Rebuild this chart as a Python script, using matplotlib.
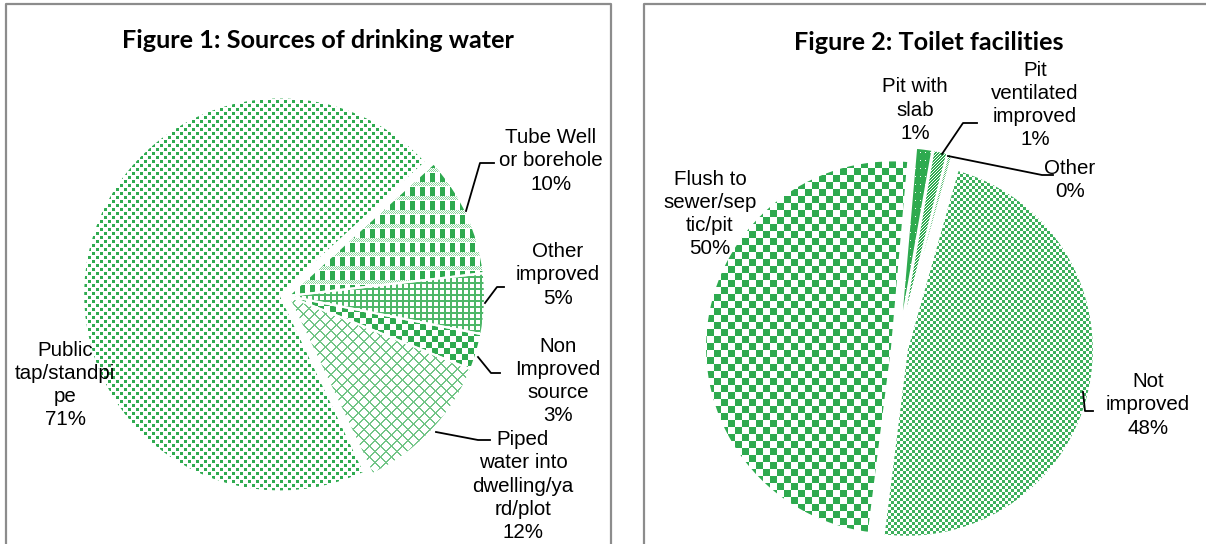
import numpy as np
import matplotlib
matplotlib.use("Agg")
import matplotlib.pyplot as plt
from matplotlib.colors import to_rgb

W, H = 1206, 544

# --- Figure 1: sources of drinking water (clockwise from the tube well slice) ---
water_labels = ["Tube Well\nor borehole", "Other\nimproved", "Non\nImproved\nsource",
                "Piped\nwater into\ndwelling/ya\nrd/plot", "Public\ntap/standpi\npe"]
water_pct = [10, 5, 3, 12, 71]

# --- Figure 2: toilet facilities (clockwise from the top) ---
toilet_labels = ["Pit with\nslab", "Pit\nventilated\nimproved", "Other",
                 "Not\nimproved", "Flush to\nsewer/sep\ntic/pit"]
toilet_pct = [1, 1, 0, 48, 50]
toilet_share = [1.4, 1.2, 0.4, 47.6, 49.4]   # unrounded estimates for slice sizes

GREEN = "#2EAA4F"
LIGHT = "#72C587"

yy, xx = np.mgrid[0:H, 0:W]


def pattern(*layers):
    img = np.ones((H, W, 3))
    for mask, col in layers:
        img[mask] = to_rgb(col)
    return img


pat_dots = pattern(((((xx // 4) + (yy // 4)) % 2 == 0) & ((xx % 4) < 3) & ((yy % 4) < 3), "#2FAB50"))
pat_plaid = pattern((((yy % 14) < 4) & ((xx + yy) % 2 == 0), "#8ED39F"),
                    (((xx % 10) < 5) & ((yy % 14) >= 5), GREEN))
pat_grid = pattern((((xx % 6) < 2) | ((yy % 6) < 2), "#4DB768"))
pat_check6 = pattern(((((xx // 6) + (yy // 6)) % 2) == 0, GREEN))
pat_diag = pattern(((((xx + yy) % 11) < 2) | (((xx - yy) % 11) < 2), LIGHT))
pat_check7 = pattern(((((xx // 7) + (yy // 7)) % 2) == 0, GREEN))
pat_check3 = pattern(((((xx // 3) + (yy // 3)) % 2) == 0, "#3DB05C"))
pat_slab = pattern((np.ones((H, W), bool), GREEN), (((xx % 5) == 0) & ((yy % 8) == 0), "white"))
pat_vent = pattern((((xx + yy) % 3) != 0, GREEN))
pat_other = pattern((((xx + yy) % 2) == 0, "#5DBE76"))

water_pats = [pat_plaid, pat_grid, pat_check6, pat_diag, pat_dots]
toilet_pats = [pat_slab, pat_vent, pat_other, pat_check3, pat_check7]

fig = plt.figure(figsize=(W / 100, H / 100), dpi=100)
ax = fig.add_axes([0, 0, 1, 1])


def Y(y):
    return H - y


def draw_pie(values, cx, cy, r, start, explode, pats):
    wedges, _ = ax.pie(values, center=(cx, Y(cy)), radius=r, startangle=90 - start,
                       counterclock=False, explode=explode,
                       wedgeprops=dict(edgecolor="white", linewidth=1.5))
    for w, p in zip(wedges, pats):
        w.set_facecolor("none")
        w.set_zorder(3)
        im = ax.imshow(p, extent=(0, W, 0, H), origin="upper",
                       interpolation="nearest", zorder=2)
        im.set_clip_path(w)


draw_pie(water_pct, 288, 296, 197, 47.7, [0, 0, 0, 0, 8], water_pats)
draw_pie(toilet_share, 898, 348, 187, 5, [14, 14, 14, 9, 6], toilet_pats)

# panel borders
ax.plot([6, 6, 611, 611], [Y(600), Y(4), Y(4), Y(600)], color="#8C8C8C", lw=1.6, zorder=5)
ax.plot([644, 644, 1300], [Y(600), Y(4), Y(4)], color="#8C8C8C", lw=1.6, zorder=5)

title_font = dict(family="Lato", weight="bold", fontsize=18.2)
ax.text(318, Y(40), "Figure 1: Sources of drinking water", ha="center", va="center", **title_font)
ax.text(929, Y(43), "Figure 2: Toilet facilities", ha="center", va="center", **title_font)

lab_font = dict(family="Liberation Sans", fontsize=14.8, linespacing=1.28, ha="center", va="center", zorder=6)

water_pos = [(551, 161), (558, 275), (558, 381), (523, 486), (65, 385)]
for lab, pct, (x, y) in zip(water_labels, water_pct, water_pos):
    ax.text(x, Y(y), f"{lab}\n{pct}%", **lab_font)

toilet_pos = [(915, 110), (1035, 105), (1070, 180), (1148, 405), (710, 214)]
for lab, pct, (x, y) in zip(toilet_labels, toilet_pct, toilet_pos):
    ax.text(x, Y(y), f"{lab}\n{pct}%", **lab_font)

# leader lines
leaders = [
    [(466, 211), (480, 163), (494, 163)],
    [(485, 303), (497, 287), (504, 287)],
    [(478, 357), (491, 373), (500, 373)],
    [(436, 432), (478, 440), (490, 440)],
    [(942, 154), (963, 123), (977, 123)],
    [(948, 156), (1042, 175), (1053, 175)],
    [(1083, 392), (1085, 411), (1093, 411)],
]
for pts in leaders:
    ax.plot([p[0] for p in pts], [Y(p[1]) for p in pts], color="black", lw=1.3, zorder=6)

ax.set_xlim(0, W)
ax.set_ylim(0, H)
ax.set_aspect("equal")
ax.axis("off")

fig.savefig("out.png", dpi=100)
